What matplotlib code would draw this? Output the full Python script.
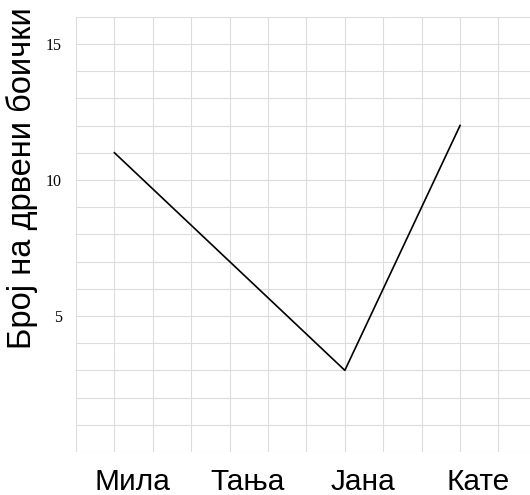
import matplotlib
matplotlib.use("Agg")
import matplotlib.pyplot as plt
import matplotlib.transforms as mtransforms
import numpy as np
from matplotlib.ticker import MultipleLocator

names = ["Мила", "Тања", "Јана", "Кате"]
counts = [11, 7, 3, 12]
y_ticks = [5, 10, 15]
y_label = "Број на дрвени боички"

fig = plt.figure(figsize=(5.30, 4.95), dpi=100)
ax = fig.add_axes([0.1434, 0.0869, 1.0 - 0.1434, 0.9663 - 0.0869])

x = np.arange(len(names))
ax.plot(x, counts, color="black", linewidth=1.2, zorder=3)

ax.set_xlim(-1/3, 3.607)
ax.set_ylim(0, 16)

ax.set_xticks(x)
ax.set_xticklabels([])
trans = mtransforms.blended_transform_factory(ax.transData, ax.transAxes)
offset = mtransforms.ScaledTranslation(18/100, -16/100, fig.dpi_scale_trans)
for xi, name in zip(x, names):
    ax.text(xi, 0, name, transform=trans + offset, ha="center", va="top",
            fontsize=21.5, family="Liberation Sans")
ax.xaxis.set_minor_locator(MultipleLocator(1/3))
ax.set_yticks(y_ticks)
ax.set_yticklabels([str(v) for v in y_ticks], fontsize=11.5, family="Liberation Serif")
ax.yaxis.set_minor_locator(MultipleLocator(1))

ax.grid(True, which="both", color="#dcdcdc", linewidth=0.8, zorder=0)
ax.set_axisbelow(True)
ax.tick_params(which="both", length=0)
ax.tick_params(axis="y", pad=10)
for s in ax.spines.values():
    s.set_visible(False)

ax.set_ylabel(y_label, fontsize=23.5, family="Liberation Sans")
ax.yaxis.set_label_coords(-0.084, 0.628)

fig.savefig("out.png", dpi=100)
